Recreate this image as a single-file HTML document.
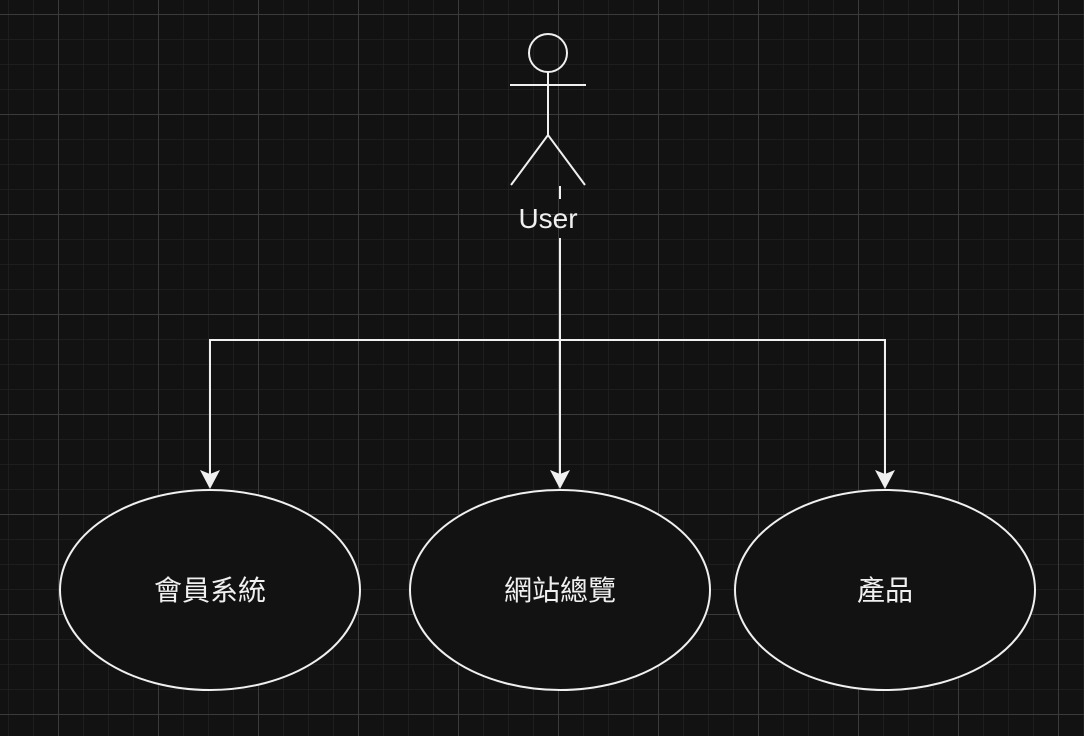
<!DOCTYPE html>
<html><head><meta charset="utf-8"><style>
html,body{margin:0;padding:0;background:#121212;}
</style></head><body>
<svg width="1084" height="736" xmlns="http://www.w3.org/2000/svg" style="display:block">
<defs>
<pattern id="mi" x="8" y="14" width="25" height="25" patternUnits="userSpaceOnUse">
<path d="M0 0H25M0 0V25" stroke="#222" stroke-width="1.5" fill="none"/>
</pattern>
<pattern id="ma" x="58" y="14" width="100" height="100" patternUnits="userSpaceOnUse">
<path d="M0 0.5H100M0.5 0V100" stroke="#3a3a3a" stroke-width="1" fill="none"/>
</pattern>
</defs>
<rect width="1084" height="736" fill="#121212"/>
<rect width="1084" height="736" fill="url(#mi)"/>
<rect width="1084" height="736" fill="url(#ma)"/>
<g stroke="#f0f0f0" stroke-width="2" fill="none">
<circle cx="548" cy="53" r="19"/>
<line x1="510" y1="85" x2="586" y2="85"/>
<line x1="548" y1="72" x2="548" y2="135"/>
<polyline points="511,185 548,135 585,185"/>
<line x1="560" y1="186" x2="560" y2="199"/>
<line x1="560" y1="238" x2="560" y2="476"/>
<polyline points="210,476 210,340 885,340 885,476"/>
<ellipse cx="210" cy="590" rx="150" ry="100" fill="#121212"/>
<ellipse cx="560" cy="590" rx="150" ry="100" fill="#121212"/>
<ellipse cx="885" cy="590" rx="150" ry="100" fill="#121212"/>
</g>
<g fill="#f0f0f0">
<polygon points="200,470 210,489 220,470 210,474"/>
<polygon points="550,470 560,489 570,470 560,474"/>
<polygon points="875,470 885,489 895,470 885,474"/>
</g>
<g fill="#f0f0f0" font-family="Liberation Sans, Noto Sans CJK TC, sans-serif" font-size="28" text-anchor="middle">
<text x="548" y="228">User</text>
<text x="210" y="600">會員系統</text>
<text x="560" y="600">網站總覽</text>
<text x="885" y="600">產品</text>
</g>
</svg>
</body></html>
